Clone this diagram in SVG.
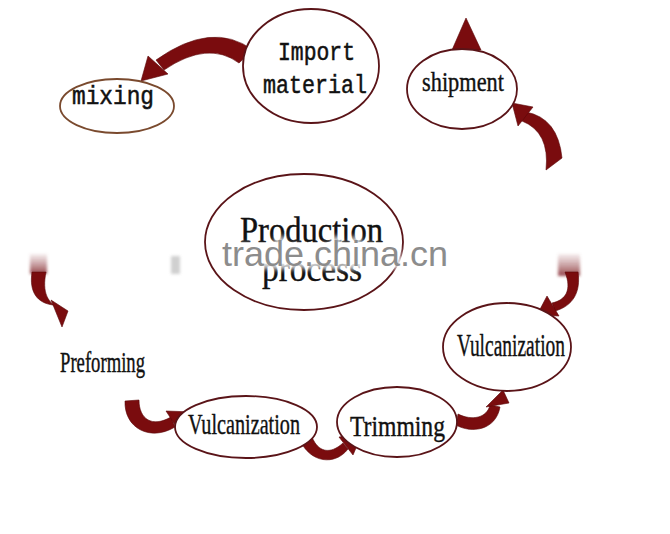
<svg xmlns="http://www.w3.org/2000/svg" width="670" height="534" viewBox="0 0 670 534">
<defs>
<style>
.node{fill:#fff;stroke:#5a1418;stroke-width:1.8}
.mono{font-family:"Liberation Mono","DejaVu Sans Mono",monospace;fill:#111;stroke:#111;stroke-width:0.5}
.ser{font-family:"Liberation Serif","DejaVu Serif",serif;fill:#111;stroke:#111;stroke-width:0.4}
.arr{fill:#7a0c0e;stroke:#5a0608;stroke-width:0.6}
</style>
<filter id="blur" x="-50%" y="-50%" width="200%" height="200%"><feGaussianBlur stdDeviation="2.5"/></filter>
<filter id="blur2" x="-50%" y="-50%" width="200%" height="200%"><feGaussianBlur stdDeviation="1.8"/></filter>
<linearGradient id="sm" x1="0" y1="0" x2="0" y2="1">
<stop offset="0" stop-color="#a05a5e" stop-opacity="0.1"/>
<stop offset="1" stop-color="#8a3036" stop-opacity="0.9"/>
</linearGradient>
</defs>
<rect width="670" height="534" fill="#fff"/>

<g id="connectors">
<!-- Import -> mixing -->
<path class="arr" d="M253,50 Q212,20 156,60 L164,70 Q208,40 239,63 Z"/>
<polygon class="arr" points="148,56 168,74 141,81"/>
<!-- shipment tail arrow -->
<path class="arr" d="M526,112 Q558,118 562,158 L546,170 Q550,132 522,121 Z"/>
<polygon class="arr" points="512,103 533,107 518,126"/>
<!-- triangle above shipment -->
<polygon class="arr" points="466,18 452,50 481,50"/>
<!-- left arrow to Preforming -->
<rect x="30" y="254" width="17" height="20" fill="url(#sm)" filter="url(#blur2)"/>
<path class="arr" d="M32,272 C29,292 37,303 53,305 L62,309 C47,304 42,292 46,272 Z"/>
<polygon class="arr" points="51,300 68,311 62,327"/>
<rect x="171" y="256" width="9" height="18" fill="#bdbdbd" opacity="0.7" filter="url(#blur2)"/>
<!-- Preforming -> Vulcanization -->
<path class="arr" d="M125,401 C124,428 150,442 175,427 L171,417 C152,428 139,419 139,400 Z"/>
<polygon class="arr" points="166,411 181,434 193,412"/>
<!-- Vulcanization -> Trimming -->
<path class="arr" d="M300,440 C310,463 335,466 348,449 L343,443 C330,455 318,452 312,437 Z"/>
<polygon class="arr" points="339,437 353,455 362,434"/>
<!-- Trimming -> Vulcanization right -->
<path class="arr" d="M456,425 C472,434 496,430 500,407 L490,405 C487,418 472,421 458,414 Z"/>
<polygon class="arr" points="486,407 509,403 503,390"/>
<!-- top right -> Vulcanization right -->
<rect x="558" y="254" width="22" height="22" fill="url(#sm)" filter="url(#blur2)"/>
<path class="arr" d="M565,272 C572,290 566,300 552,303 L555,311 C573,306 581,292 578,272 Z"/>
<polygon class="arr" points="547,296 559,316 537,315"/>
</g>

<g id="mixing">
<ellipse cx="117" cy="106" rx="57" ry="27" fill="#fff" stroke="#7a4a2e" stroke-width="1.8"/>
<text class="mono" x="72" y="104" font-size="25" textLength="82" lengthAdjust="spacingAndGlyphs">mixing</text>
</g>

<g id="import">
<ellipse class="node" cx="311" cy="66" rx="68" ry="57"/>
<text class="mono" x="278" y="60" font-size="25" textLength="77" lengthAdjust="spacingAndGlyphs">Import</text>
<text class="mono" x="263" y="93" font-size="25" textLength="104" lengthAdjust="spacingAndGlyphs">material</text>
</g>

<g id="shipment">
<ellipse class="node" cx="462" cy="89" rx="55" ry="40"/>
<text class="ser" x="422" y="91" font-size="27" textLength="82" lengthAdjust="spacingAndGlyphs">shipment</text>
</g>

<g id="production">
<ellipse class="node" cx="304" cy="242" rx="99" ry="68"/>
<text class="ser" x="240" y="242" font-size="35" textLength="143" lengthAdjust="spacingAndGlyphs">Production</text>
<text class="ser" x="262" y="281" font-size="35" textLength="100" lengthAdjust="spacingAndGlyphs">process</text>
</g>

<g id="preforming">
<text class="ser" x="60" y="372" font-size="30" textLength="85" lengthAdjust="spacingAndGlyphs">Preforming</text>
</g>

<g id="vulcanization1">
<ellipse class="node" cx="246" cy="427" rx="71" ry="31"/>
<text class="ser" x="188" y="434" font-size="30" textLength="112" lengthAdjust="spacingAndGlyphs">Vulcanization</text>
</g>

<g id="trimming">
<ellipse class="node" cx="397" cy="422" rx="60" ry="35"/>
<text class="ser" x="350" y="436" font-size="30" textLength="95" lengthAdjust="spacingAndGlyphs">Trimming</text>
</g>

<g id="vulcanization2">
<ellipse class="node" cx="507" cy="347" rx="64" ry="44"/>
<text class="ser" x="457" y="356" font-size="31" textLength="108" lengthAdjust="spacingAndGlyphs">Vulcanization</text>
</g>

<g id="watermark">
<text x="222" y="266" font-family="Liberation Sans, Arial, sans-serif" font-size="35" textLength="226" lengthAdjust="spacingAndGlyphs" fill="none" stroke="#fff" stroke-width="7" opacity="0.85" filter="url(#blur)">trade.china.cn</text>
<text x="222" y="266" font-family="Liberation Sans, Arial, sans-serif" font-size="35" textLength="226" lengthAdjust="spacingAndGlyphs" fill="#8c8c8c">trade.china.cn</text>
</g>
</svg>
